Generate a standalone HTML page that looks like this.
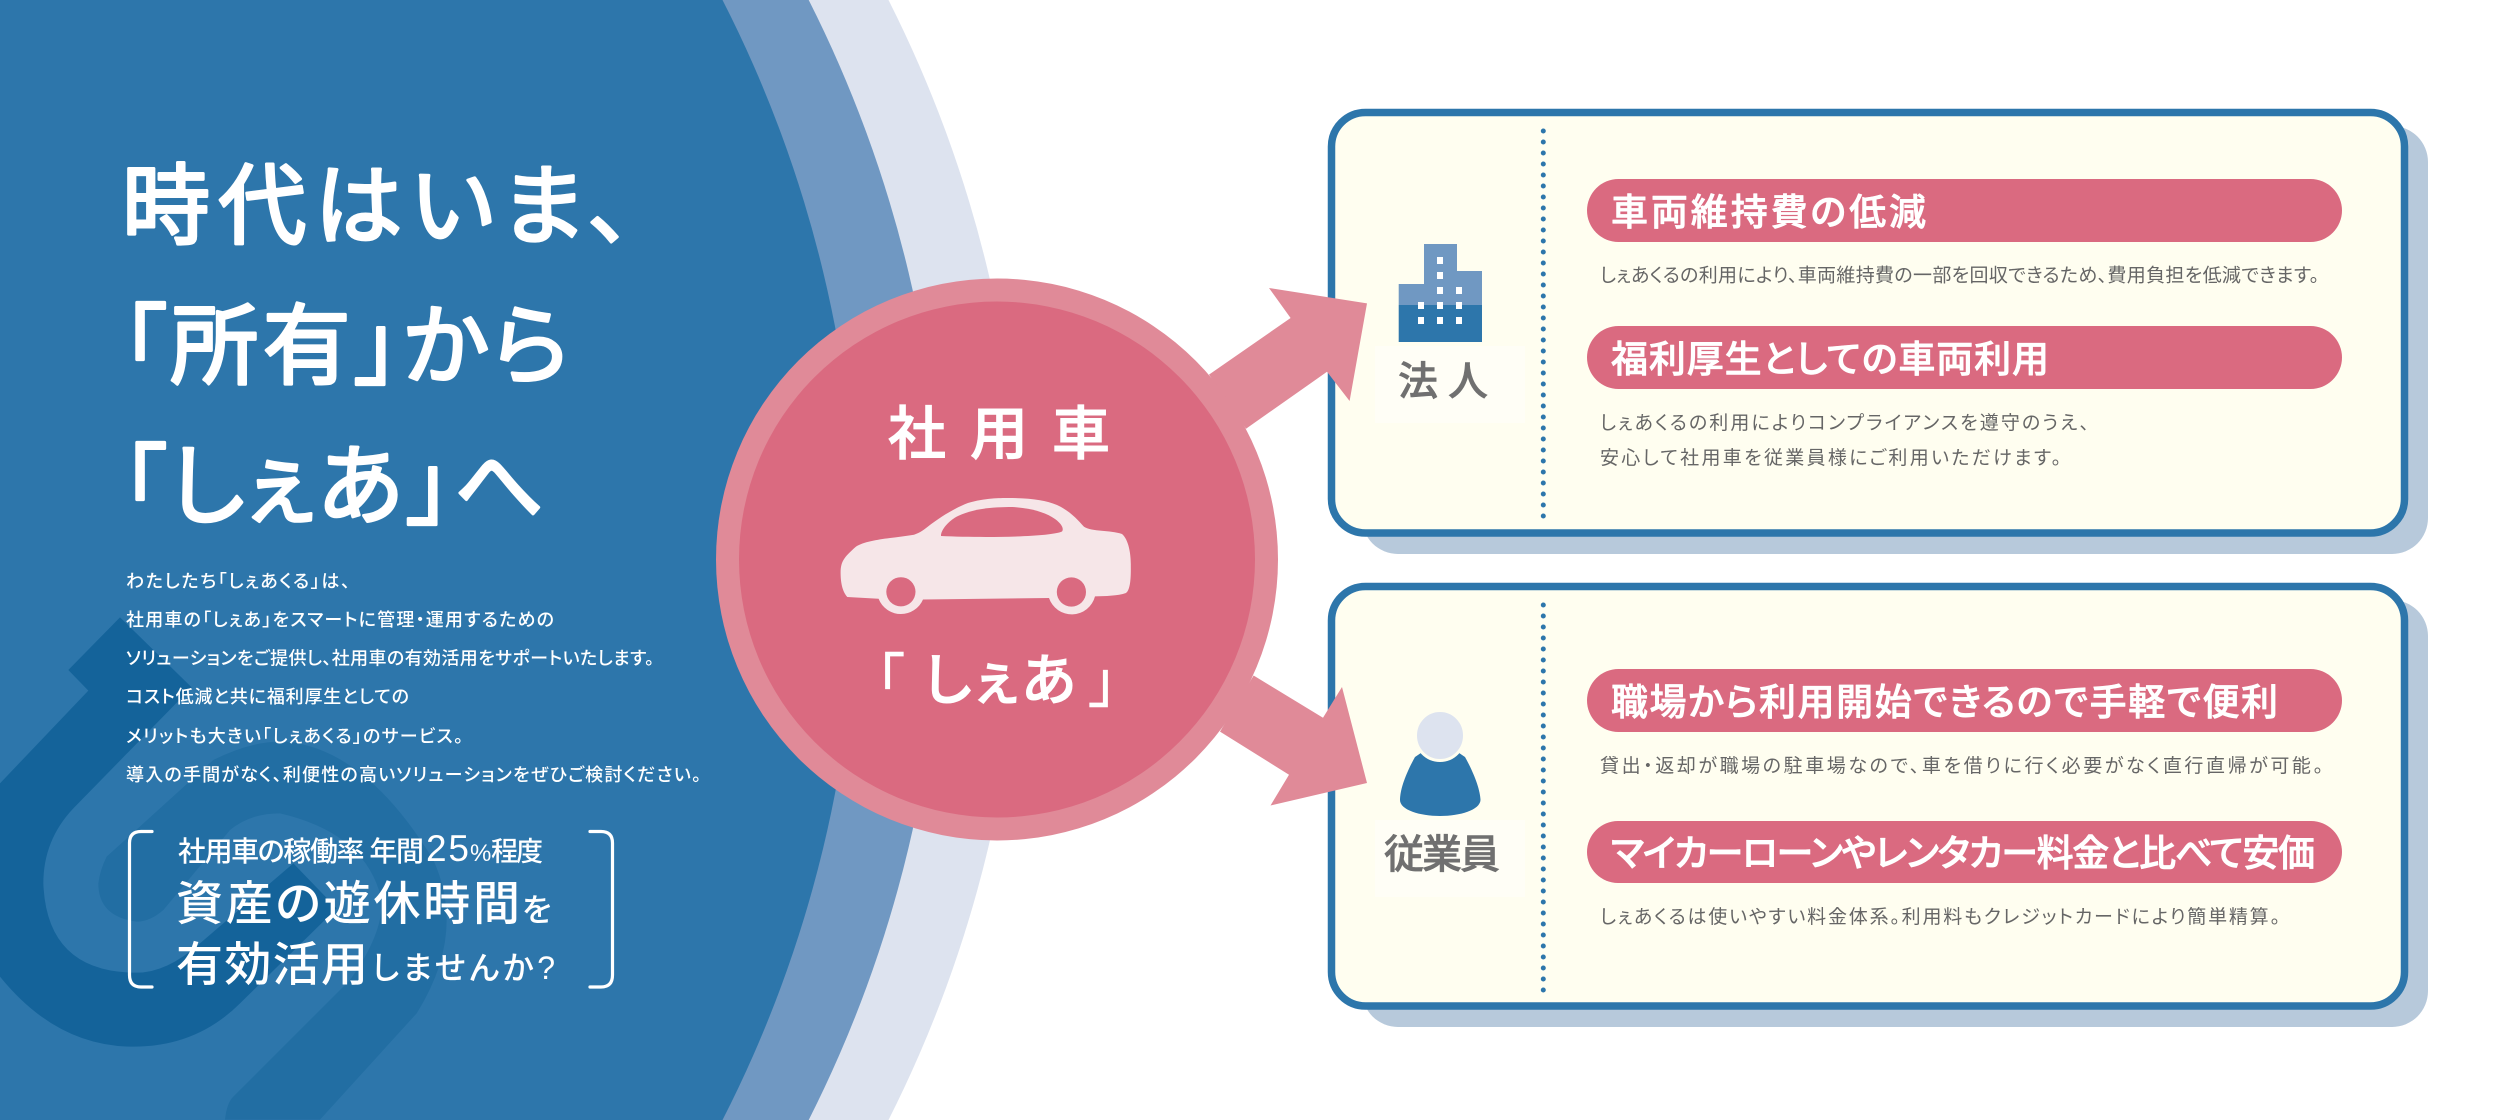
<!DOCTYPE html>
<html lang="ja"><head><meta charset="utf-8"><title>社用車「しぇあ」</title>
<style>
html,body{margin:0;padding:0;background:#fff;width:2520px;height:1120px;overflow:hidden}
svg{display:block;overflow:hidden}
text{font-family:"Liberation Sans","Noto Sans CJK JP",sans-serif;font-feature-settings:"palt" 1}
.w{fill:#fff}
.h{fill:#fff;stroke:#fff;stroke-width:3;stroke-linejoin:round;paint-order:stroke;font-weight:400;font-size:88px}
.b{fill:#fff;font-size:18px;font-weight:500}
.p{fill:#fff;stroke:#fff;stroke-width:.7;stroke-linejoin:round;font-size:37px;font-weight:500}
.t{fill:#666;font-size:19px;font-weight:400}
.l{fill:#707070;stroke:#707070;stroke-width:.6;font-size:40px;font-weight:500}
</style></head><body>
<svg xmlns="http://www.w3.org/2000/svg" width="2520" height="1120" viewBox="0 0 2520 1120">
<rect width="2520" height="1120" fill="#fff"/>
<path d="M0,0H888.5A1241,1241 0 0 1 888.5,1120H0Z" fill="#dde3ef"/>
<path d="M0,0H808.7A1239.8,1239.8 0 0 1 808.7,1120H0Z" fill="#7098c2"/>
<path d="M0,0H722.5A1230,1230 0 0 1 722.5,1120H0Z" fill="#2d76ab"/>

<g transform="translate(0 600) scale(.33333)">
<path fill="#226ea3" d="M320,770 L640,480 Q760,420 860,425 Q1100,450 1300,780 Q1400,1000 1250,1240 L960,1559 L675,1559 Q680,1510 700,1490 L1050,1140 Q1150,1000 1145,900 Q1100,700 840,640 Q750,640 690,690 L490,930 Q450,965 410,965 Q295,950 295,850 Q300,810 320,770Z"/>
<path fill="#14639a" d="M360,52 L575,262 L220,625 Q130,720 130,850 Q140,1118 410,1118 Q500,1118 600,1030 L880,790 L1010,925 L720,1210 Q590,1340 400,1340 Q170,1340 0,1130 L0,550 L265,272 L205,210Z"/>
</g>

<text class="h" x="122" y="237" textLength="510">時代はいま、</text>
<text class="h" x="122" y="377" textLength="447">「所有」から</text>
<text class="h" x="122" y="517" textLength="422">「しぇあ」へ</text>

<text class="b" x="126" y="587.5" textLength="224">わたしたち「しぇあくる」は、</text>
<text class="b" x="126" y="626" textLength="428">社用車の「しぇあ」をスマートに管理・運用するための</text>
<text class="b" x="126" y="664.5" textLength="528">ソリューションをご提供し、社用車の有効活用をサポートいたします。</text>
<text class="b" x="126" y="703" textLength="283">コスト低減と共に福利厚生としての</text>
<text class="b" x="126" y="742.5" textLength="337">メリットも大きい「しぇあくる」のサービス。</text>
<text class="b" x="126" y="781" textLength="575">導入の手間がなく、利便性の高いソリューションをぜひご検討ください。</text>

<path d="M152,831.5H141Q129.5,831.5 129.5,843V975Q129.5,987 141,987H152" fill="none" stroke="#fff" stroke-width="3.2" stroke-linecap="round"/>
<path d="M590,831.5H601Q612.5,831.5 612.5,843V975Q612.5,987 601,987H590" fill="none" stroke="#fff" stroke-width="3.2" stroke-linecap="round"/>

<text class="w" x="178" y="861" font-size="28" font-weight="500" textLength="246">社用車の稼働率 年間</text>
<text class="w" x="426" y="861" font-size="37" font-weight="400" textLength="43">25</text>
<text class="w" x="470" y="861" font-size="24" font-weight="400" textLength="20">%</text>
<text class="w" x="491" y="861" font-size="27" font-weight="500" textLength="52">程度</text>
<text class="w" x="176" y="920" font-size="47" font-weight="500" textLength="344">資産の遊休時間</text>
<text class="w" x="522" y="921" font-size="32" font-weight="500" textLength="33">を</text>
<text class="w" x="176" y="981" font-size="47" font-weight="500" textLength="192">有効活用</text>
<text class="w" x="372" y="979" font-size="32" font-weight="500" textLength="183">しませんか?</text>

<!-- card 1 -->
<rect x="1362" y="126" width="1066" height="428" rx="36" fill="#b7c9db"/>
<rect x="1331.5" y="112.5" width="1073" height="420.5" rx="34" fill="#fffef0" stroke="#2d76ab" stroke-width="7.5"/>
<line x1="1543.3" y1="131" x2="1543.3" y2="518" stroke="#2d76ab" stroke-width="5" stroke-linecap="round" stroke-dasharray="0 11"/>
<rect x="1375" y="346" width="150" height="77" fill="#fffef6"/>
<rect x="1587" y="179" width="755" height="63" rx="31.5" fill="#da6a80"/>
<rect x="1587" y="326" width="755" height="63" rx="31.5" fill="#da6a80"/>
<text class="p" x="1611" y="225" textLength="315">車両維持費の低減</text>
<text class="p" x="1611" y="372" textLength="438">福利厚生としての車両利用</text>
<text class="t" x="1600" y="281.5" textLength="719">しぇあくるの利用により、車両維持費の一部を回収できるため、費用負担を低減できます。</text>
<text class="t" x="1600" y="429" textLength="489">しぇあくるの利用によりコンプライアンスを遵守のうえ、</text>
<text class="t" x="1600" y="464" textLength="461">安心して社用車を従業員様にご利用いただけます。</text>

<!-- card 2 -->
<rect x="1362" y="600" width="1066" height="427" rx="36" fill="#b7c9db"/>
<rect x="1331.5" y="586.5" width="1073" height="419.5" rx="34" fill="#fffef0" stroke="#2d76ab" stroke-width="7.5"/>
<line x1="1543.3" y1="605" x2="1543.3" y2="992" stroke="#2d76ab" stroke-width="5" stroke-linecap="round" stroke-dasharray="0 11"/>
<rect x="1375" y="820" width="150" height="77" fill="#fffef6"/>
<rect x="1587" y="669" width="755" height="63" rx="31.5" fill="#da6a80"/>
<rect x="1587" y="821" width="755" height="62" rx="31" fill="#da6a80"/>
<text class="p" x="1611" y="715" textLength="667">職場から利用開始できるので手軽で便利</text>
<text class="p" x="1611" y="866" font-size="36" textLength="704">マイカーローンやレンタカー料金と比べて安価</text>
<text class="t" x="1600" y="772" textLength="723">貸出・返却が職場の駐車場なので、車を借りに行く必要がなく直行直帰が可能。</text>
<text class="t" x="1600" y="923" textLength="680">しぇあくるは使いやすい料金体系。利用料もクレジットカードにより簡単精算。</text>

<!-- building -->
<path d="M1424,244H1457V271H1482V305H1398.7V284H1424Z" fill="#7098c2"/>
<rect x="1398.7" y="305" width="83.3" height="37" fill="#2d76ab"/>
<g fill="#fff">
<rect x="1437" y="257" width="6" height="7"/><rect x="1437" y="272" width="6" height="7"/>
<rect x="1437" y="287" width="6" height="7"/><rect x="1456" y="287" width="6" height="7"/>
<rect x="1418" y="302" width="6" height="7"/><rect x="1437" y="302" width="6" height="7"/><rect x="1456" y="302" width="6" height="7"/>
<rect x="1418" y="317" width="6" height="7"/><rect x="1437" y="317" width="6" height="7"/><rect x="1456" y="317" width="6" height="7"/>
</g>
<text class="l" x="1398" y="395" textLength="90">法人</text>

<!-- person -->
<path d="M1415,757C1405,775 1400,790 1400,800C1400,810 1420,816 1440,816C1460,816 1480,810 1480.5,800C1480,790 1475,775 1465,757L1440,740Z" fill="#2d76ab"/>
<ellipse cx="1440" cy="735.5" rx="24.5" ry="25" fill="#dde3ef" stroke="#fffef0" stroke-width="3"/>
<text class="l" x="1384" y="868" textLength="116">従業員</text>

<!-- arrows -->
<polygon fill="#e08a98" points="1367,303.4 1269,288 1290.6,318 1209,374.6 1246,428.7 1327,371.8 1349.6,401"/>
<polygon fill="#e08a98" points="1367,783 1342,687 1323,717.8 1253.6,675.5 1220,731.6 1289,774.7 1270.5,805.5"/>

<!-- centre circle -->
<circle cx="997" cy="559.5" r="281" fill="#e08a98"/>
<circle cx="997" cy="559.5" r="258" fill="#da6a80"/>
<text class="w" x="888" y="454" font-size="58" font-weight="500" textLength="222" stroke="#fff" stroke-width="1">社用車</text>
<text class="w" x="876" y="700" font-size="56" font-weight="400" stroke="#fff" stroke-width=".8">「</text>
<text class="w" x="924" y="700" font-size="56" font-weight="500" textLength="152" stroke="#fff" stroke-width="1">しぇあ</text>
<text class="w" x="1117" y="702" font-size="56" font-weight="400" text-anchor="end" stroke="#fff" stroke-width=".8">」</text>

<!-- car -->
<path fill="#f6e6e8" d="M847.3,597C841,590 840.6,578 840.6,572C841,562 843,558 856,546.6C868,539 895,538 914,534.7C920,533 925,529 927.7,526.8C940,517 955,508 967.9,503C985,498 1000,498 1008,498C1030,498 1045,500 1057,505C1070,511 1078,520 1084,526.8C1092,532 1110,530 1122,534C1129,540 1131,555 1130.8,566C1131,580 1130,590 1126,593C1118,596 1105,596 1095,596.4A24,24 0 0 1 1049,598L923,599.5A24,24 0 0 1 878.6,598.8Z"/>
<path fill="#da6a80" d="M941,534.7C942,528 950,520 958,516C975,508 995,507 1012.5,507C1030,508 1045,512 1055,519C1062,524 1064,529 1062,531.5C1050,537 985,538 941,536Z"/>
<circle cx="900.9" cy="591.8" r="14.6" fill="#da6a80"/>
<circle cx="1071.4" cy="592" r="14.6" fill="#da6a80"/>
</svg>
</body></html>
